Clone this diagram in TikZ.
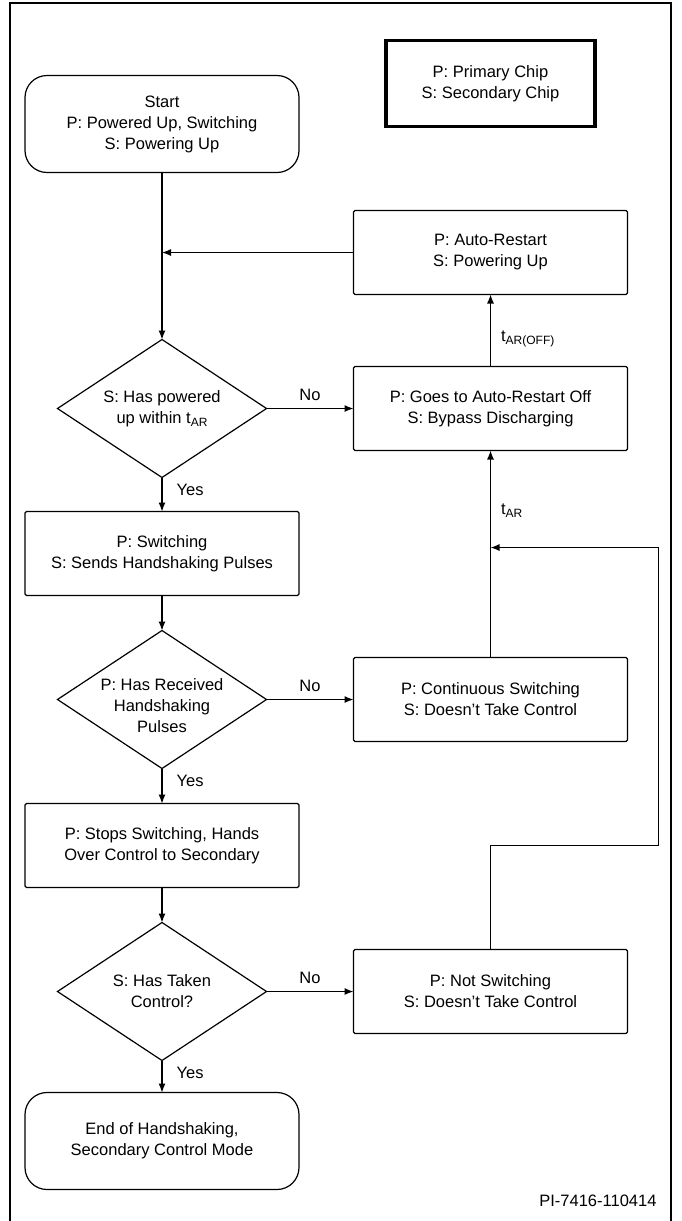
\documentclass[tikz,border=0pt]{standalone}
\usepackage{fontspec}
\setmainfont{Liberation Sans}
\usepackage{tikz}
\usetikzlibrary{arrows.meta,positioning,shapes.geometric}
\newcommand{\sbs}[1]{\raisebox{-0.35ex}{\fontsize{12}{12}\selectfont #1}}
\tikzset{
  every node/.append style={font=\fontsize{16.5}{21}\selectfont},
  box/.style={draw, line width=1.2pt, rounded corners=1.5pt, align=center,
              minimum width=274pt, minimum height=84pt, inner sep=2pt, outer sep=0pt},
  rbox/.style={box, rounded corners=22pt, minimum height=97pt},
  keybox/.style={box, line width=3.5pt, rounded corners=0pt, minimum width=209pt, minimum height=86pt},
  dec/.style={diamond, draw, line width=1.2pt, minimum width=209pt, minimum height=138pt,
              inner sep=0pt, outer sep=0pt},
  dectext/.style={align=center, inner sep=0pt},
  arrow/.style={-{Latex[length=9pt,width=7pt]}, line width=1.2pt},
  tag/.style={inner sep=2pt},
}
\begin{document}
\begin{tikzpicture}[x=1pt, y=1pt, node distance=35pt and 87pt]
  \useasboundingbox (0,0) rectangle (682,-1221);
  \draw[line width=2pt] (10,-1223) |- (671,-3) -- (671,-1223);
  % left column
  \node[rbox] (start) at (162,-124) {Start\\P: Powered Up, Switching\\S: Powering Up};
  \node[dec, below=167pt of start, label={[dectext]center:S: Has powered\\up within t\sbs{AR}}] (dia1) {};
  \node[box, below=34pt of dia1] (sw) {P: Switching\\S: Sends Handshaking Pulses};
  \node[dec, below=of sw, label={[dectext, yshift=-6pt]center:P: Has Received\\Handshaking\\Pulses}] (dia2) {};
  \node[box, below=of dia2] (stop) {P: Stops Switching, Hands\\Over Control to Secondary};
  \node[dec, below=of stop, label={[dectext]center:S: Has Taken\\Control?}] (dia3) {};
  \node[rbox, below=32pt of dia3] (fin) {End of Handshaking,\\Secondary Control Mode};
  % right column
  \node[box, right=of dia1] (goes) {P: Goes to Auto-Restart Off\\S: Bypass Discharging};
  \node[box, above=72pt of goes] (ar) {P: Auto-Restart\\S: Powering Up};
  \node[keybox, above=84pt of ar] (key) {P: Primary Chip\\S: Secondary Chip};
  \node[box, right=of dia2] (cont) {P: Continuous Switching\\S: Doesn't Take Control};
  \node[box, right=of dia3] (nots) {P: Not Switching\\S: Doesn't Take Control};
  \node[anchor=east] (code) at (660,-1201) {PI-7416-110414};
  \coordinate[above=110pt of cont] (merge);

  \draw[arrow] (start) -- (dia1);
  \draw[arrow] (ar.west) -- (ar.west -| start.south);
  \draw[arrow] (dia1) -- node[tag, right=12pt, pos=0.35]{Yes} (sw);
  \draw[arrow] (sw) -- (dia2);
  \draw[arrow] (dia2) -- node[tag, right=12pt, pos=0.35]{Yes} (stop);
  \draw[arrow] (stop) -- (dia3);
  \draw[arrow] (dia3) -- node[tag, right=12pt, pos=0.38]{Yes} (fin);
  \draw[arrow] (dia1) -- node[tag, above=5pt]{No} (goes);
  \draw[arrow] (dia2) -- node[tag, above=5pt]{No} (cont);
  \draw[arrow] (dia3) -- node[tag, above=5pt]{No} (nots);
  \draw[arrow] (goes) -- node[tag, right=8pt, pos=0.38]{t\sbs{AR(OFF)}} (ar);
  \draw[arrow] (cont) -- node[tag, right=8pt, pos=0.71]{t\sbs{AR}} (goes);
  \draw[arrow] (nots.north) -- ++(0,104) -- ++(168,0) |- (merge);
\end{tikzpicture}
\end{document}
